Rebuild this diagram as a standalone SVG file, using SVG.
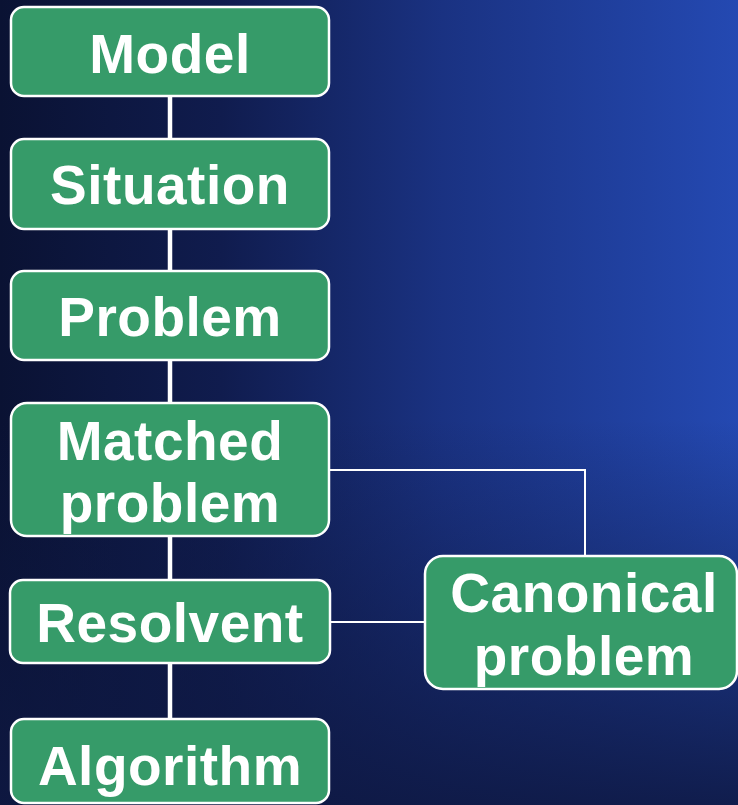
<svg xmlns="http://www.w3.org/2000/svg" width="738" height="805" viewBox="0 0 738 805">
  <defs>
    <linearGradient id="bgH" gradientUnits="userSpaceOnUse" x1="0" y1="0" x2="738" y2="0">
      <stop offset="0" stop-color="#0a1233"/>
      <stop offset="0.3" stop-color="#101c4e"/>
      <stop offset="0.6" stop-color="#1a3282"/>
      <stop offset="1" stop-color="#2449b2"/>
    </linearGradient>
    <linearGradient id="bgV" gradientUnits="userSpaceOnUse" x1="0" y1="420" x2="0" y2="805">
      <stop offset="0" stop-color="#0e1842" stop-opacity="0"/>
      <stop offset="1" stop-color="#0e1842" stop-opacity="0.9"/>
    </linearGradient>
    <style>
      .box { fill: #369b69; stroke: #ffffff; stroke-width: 2.5; }
      .lbl { fill: #ffffff; font-family: "Liberation Sans", Arial, sans-serif; font-weight: bold; font-size: 55px; letter-spacing: 0.5px; text-anchor: middle; }
      .trunk { stroke: #ffffff; stroke-width: 4.5; fill: none; }
      .branch { stroke: #ffffff; stroke-width: 2; fill: none; }
    </style>
  </defs>

  <!-- backdrop: horizontal sweep to blue, darkening toward the bottom -->
  <rect width="738" height="805" fill="url(#bgH)"/>
  <rect width="738" height="805" fill="url(#bgV)"/>

  <!-- connectors -->
  <g id="connectors">
    <line class="trunk" x1="170" y1="96" x2="170" y2="139"/>
    <line class="trunk" x1="170" y1="229" x2="170" y2="271"/>
    <line class="trunk" x1="170" y1="360" x2="170" y2="403"/>
    <line class="trunk" x1="170" y1="536" x2="170" y2="580"/>
    <line class="trunk" x1="170" y1="663" x2="170" y2="719"/>
    <polyline class="branch" points="329,470 585,470 585,556"/>
    <line class="branch" x1="330" y1="622" x2="425" y2="622"/>
  </g>

  <g id="model">
    <rect class="box" x="11" y="7" width="318" height="89" rx="13"/>
    <text class="lbl" x="170" y="73">Model</text>
  </g>

  <g id="situation">
    <rect class="box" x="11" y="139" width="318" height="90" rx="13"/>
    <text class="lbl" x="170" y="204">Situation</text>
  </g>

  <g id="problem">
    <rect class="box" x="11" y="271" width="318" height="89" rx="13"/>
    <text class="lbl" x="170" y="336">Problem</text>
  </g>

  <g id="matched-problem">
    <rect class="box" x="11" y="403" width="318" height="133" rx="16"/>
    <text class="lbl" x="170" y="460">Matched</text>
    <text class="lbl" x="170" y="522">problem</text>
  </g>

  <g id="resolvent">
    <rect class="box" x="10" y="580" width="320" height="83" rx="13"/>
    <text class="lbl" x="170" y="642">Resolvent</text>
  </g>

  <g id="algorithm">
    <rect class="box" x="11" y="719" width="318" height="84" rx="13"/>
    <text class="lbl" x="170" y="785">Algorithm</text>
  </g>

  <g id="canonical-problem">
    <rect class="box" x="425" y="556" width="312" height="133" rx="18"/>
    <text class="lbl" x="584" y="612">Canonical</text>
    <text class="lbl" x="584" y="675">problem</text>
  </g>
</svg>
